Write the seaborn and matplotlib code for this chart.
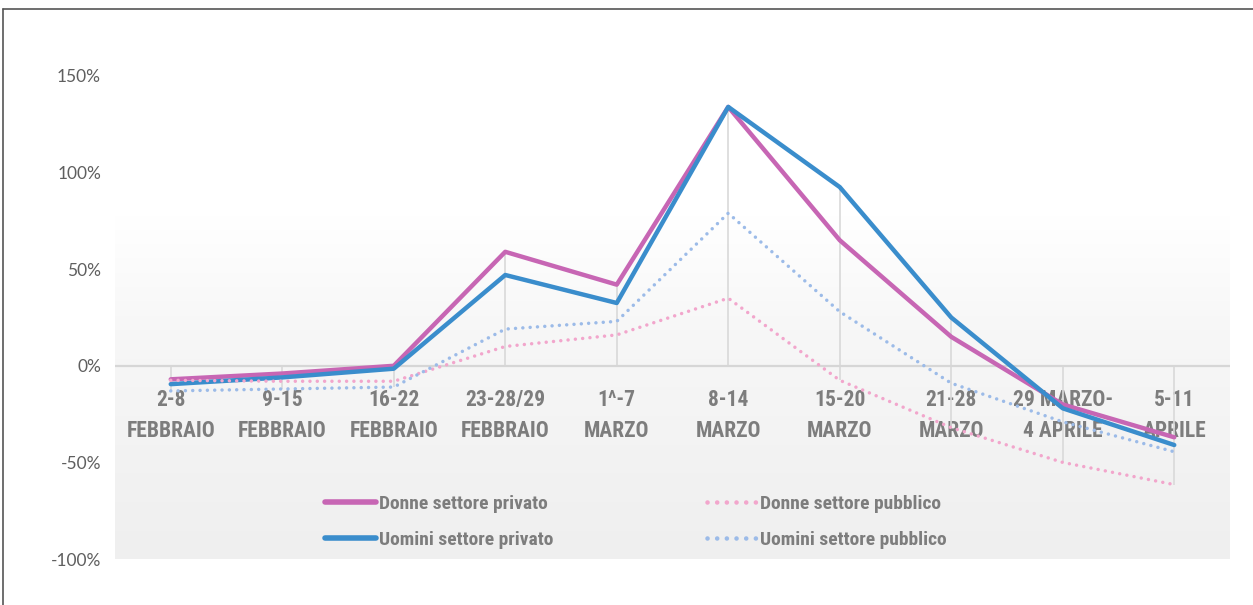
import numpy as np
import pandas as pd
import matplotlib
matplotlib.use("Agg")
import matplotlib.pyplot as plt
import seaborn as sns
from matplotlib import font_manager
from matplotlib.lines import Line2D
from matplotlib.colors import LinearSegmentedColormap

# data (percent change)
categories = ["2-8\nFEBBRAIO", "9-15\nFEBBRAIO", "16-22\nFEBBRAIO", "23-28/29\nFEBBRAIO",
              "1^-7\nMARZO", "8-14\nMARZO", "15-20\nMARZO", "21-28\nMARZO",
              "29 MARZO-\n4 APRILE", "5-11\nAPRILE"]
donne_privato = [-7, -4, 0, 59, 42, 134, 65, 15, -20, -37]
uomini_privato = [-9.5, -6, -1.5, 47, 32.5, 134, 92.5, 25, -22, -41]
donne_pubblico = [-7.5, -8, -8, 10, 16, 35, -7.5, -32, -50, -61.5]
uomini_pubblico = [-13, -12, -11, 19, 23, 79, 28, -9, -29, -44.5]
y_ticks = [-100, -50, 0, 50, 100, 150]

dot = (0, (0.01, 2.1))
series = [
    ("Donne settore privato", donne_privato, "#c766b4", "-", 3.2),
    ("Uomini settore privato", uomini_privato, "#3a8dcc", "-", 3.2),
    ("Donne settore pubblico", donne_pubblico, "#f2a6cc", dot, 2.5),
    ("Uomini settore pubblico", uomini_pubblico, "#9cbbe8", dot, 2.5),
]


def pick_narrow():
    # look for a condensed bold face; otherwise fall back to Lato, a bit smaller
    for fam in ["Liberation Sans Narrow", "Roboto Condensed", "Open Sans Condensed",
                "DejaVu Sans", "Noto Sans", "Roboto", "Open Sans"]:
        fp = font_manager.FontProperties(family=fam, weight="bold", stretch="condensed")
        try:
            path = font_manager.findfont(fp, fallback_to_default=False)
        except Exception:
            continue
        if "ondensed" in path or "Narrow" in path or "SemiCond" in path:
            return font_manager.FontProperties(fname=path), 1.0
    return font_manager.FontProperties(family="Lato", weight="bold"), 0.86


narrow_fp, scale = pick_narrow()

sns.set_style("white")
plt.rcParams['font.family'] = ['Lato', 'DejaVu Sans']

fig = plt.figure(figsize=(12.53, 6.05), dpi=100)
ax = fig.add_axes([115 / 1253, 1 - 559 / 605, (1230 - 115) / 1253, (559 - 76) / 605])

x = np.arange(len(categories))

# soft grey background band
cmap = LinearSegmentedColormap.from_list("bg", ["#ffffff", "#f7f7f7", "#f3f3f3", "#efefef"])
grad = np.linspace(0, 1, 256).reshape(-1, 1)
ax.imshow(grad, extent=(-0.5, 9.55, -100.5, 78), aspect="auto", cmap=cmap, zorder=0,
          origin="upper")

# high-low style vertical lines
allv = np.array([donne_privato, uomini_privato, donne_pubblico, uomini_pubblico])
hi = np.maximum(allv.max(axis=0), 0)
lo = np.minimum(allv.min(axis=0), 0)
ax.vlines(x, lo, hi, color="#d9d9d9", lw=1.2, zorder=1)
ax.axhline(0, color="#d6d6d6", lw=1.6, zorder=1)

for name, vals, col, ls, lw in series:
    sns.lineplot(x=x, y=vals, ax=ax, color=col, lw=lw, linestyle=ls, label=name,
                 dash_capstyle="round", zorder=3)

ax.set_xlim(-0.5, 9.5)
ax.set_ylim(-100, 150)
ax.set_yticks(y_ticks)
ax.set_yticklabels([f"{v}%" for v in y_ticks], color="#5f5f5f", fontsize=12.5)
ax.tick_params(axis="y", length=0, pad=10)

ax.spines['bottom'].set_position(('data', 0))
ax.spines['bottom'].set_visible(False)
for s in ['top', 'right', 'left']:
    ax.spines[s].set_visible(False)
ax.set_xticks(x)
ax.set_xticklabels(categories)
for lab in ax.get_xticklabels():
    lab.set_fontproperties(narrow_fp)
    lab.set_fontsize(15.5 * scale)
    lab.set_fontweight("bold")
    lab.set_color("#7d7d7d")
    lab.set_linespacing(1.48)
ax.tick_params(axis="x", length=0, pad=17)
ax.set_xlabel("")
ax.set_ylabel("")

handles = [Line2D([0], [0], color=c, lw=lw + 0.8, linestyle=ls, dash_capstyle="round")
           for _, _, c, ls, lw in series]
labels = [s[0] for s in series]
leg_fp = narrow_fp.copy()
leg_fp.set_size(14 * scale)
leg_fp.set_weight("bold")
leg = ax.legend(handles, labels, ncol=2, loc="lower left", bbox_to_anchor=(0.173, -0.015),
                frameon=False, handlelength=2.6, handletextpad=0.15, columnspacing=7.9,
                labelspacing=0.9, prop=leg_fp)
for t in leg.get_texts():
    t.set_color("#7d7d7d")

# outer frame (top and left edges)
fig.add_artist(Line2D([3 / 1253, 1], [1 - 9 / 605, 1 - 9 / 605], color="#555555", lw=1.2,
                      transform=fig.transFigure))
fig.add_artist(Line2D([3 / 1253, 3 / 1253], [0, 1 - 9 / 605], color="#555555", lw=1.2,
                      transform=fig.transFigure))

fig.savefig("out.png", dpi=100)
